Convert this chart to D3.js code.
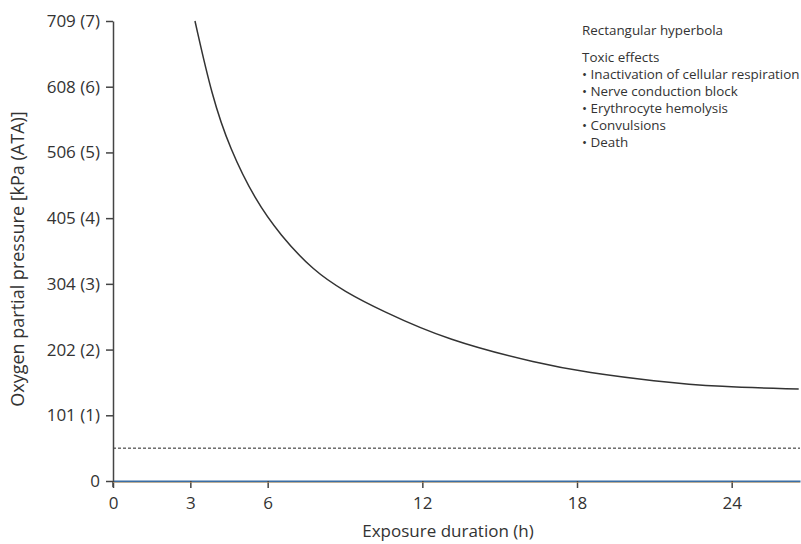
<!DOCTYPE html>
<html><head><meta charset="utf-8">
<script src="https://cdn.jsdelivr.net/npm/d3@7"></script>
<style>body{margin:0;background:#fff}svg{display:block}text{font-family:"Open Sans",sans-serif;fill:#333}</style>
</head><body>
<svg id="c" width="801" height="544"></svg>
<script>
const hours = [3.18, 3.84, 4.54, 5.51, 6.49, 7.77, 9.0, 10.37, 12.97, 16.58, 18.41, 20.97, 23.57, 26.6];
const ata   = [7.0, 5.85, 5.05, 4.28, 3.74, 3.20, 2.88, 2.60, 2.14, 1.78, 1.65, 1.52, 1.43, 1.40];
const thresholdATA = 0.5;
const yTickValues = [0, 1, 2, 3, 4, 5, 6, 7];
const yTickLabels = ["0", "101 (1)", "202 (2)", "304 (3)", "405 (4)", "506 (5)", "608 (6)", "709 (7)"];
const xTickValues = [0, 3, 6, 12, 18, 24];
const legendTitle = "Rectangular hyperbola";
const legendHeader = "Toxic effects";
const legendItems = ["Inactivation of cellular respiration", "Nerve conduction block", "Erythrocyte hemolysis", "Convulsions", "Death"];

const svg = d3.select("#c");
const x = d3.scaleLinear().domain([0, 26.65]).range([113, 800]);
const y = d3.scaleLinear().domain([0, 7]).range([481, 21]);

// dashed threshold
svg.append("line").attr("x1", x(0)).attr("x2", 800).attr("y1", y(thresholdATA)).attr("y2", y(thresholdATA))
  .attr("stroke", "#222").attr("stroke-width", 1).attr("stroke-dasharray", "3,2");

// curve
const pts = hours.map((h, i) => [h, ata[i]]);
svg.append("path").datum(pts)
  .attr("d", d3.line().x(d => x(d[0])).y(d => y(d[1])).curve(d3.curveBasis))
  .attr("fill", "none").attr("stroke", "#333").attr("stroke-width", 1.5);

// y axis
const ya = svg.append("g").attr("transform", `translate(${x(0)},0)`)
  .call(d3.axisLeft(y).tickValues(yTickValues).tickFormat((d, i) => yTickLabels[i]).tickSize(7).tickSizeOuter(0).tickPadding(6));
ya.select(".domain").attr("stroke", "#444").attr("stroke-width", 1.5);
ya.selectAll(".tick line").attr("stroke", "#444").attr("stroke-width", 1.5);
ya.selectAll("text").style("font-size", "17px").attr("fill", "#333");
svg.append("line").attr("x1", x(0)).attr("x2", x(0)).attr("y1", y(0)).attr("y2", y(0) + 6)
  .attr("stroke", "#444").attr("stroke-width", 1.5);

// x axis
const xa = svg.append("g").attr("transform", `translate(0,${y(0)})`)
  .call(d3.axisBottom(x).tickValues(xTickValues).tickSize(7).tickSizeOuter(0).tickPadding(9));
xa.select(".domain").attr("stroke", "#3a6ea5").attr("stroke-width", 2);
xa.selectAll(".tick line").attr("stroke", "#444").attr("stroke-width", 1.5);
xa.selectAll("text").style("font-size", "17px").attr("fill", "#333");
svg.append("line").attr("x1", x(0)).attr("x2", 800).attr("y1", y(0) + 1.5).attr("y2", y(0) + 1.5)
  .attr("stroke", "#d8a86a").attr("stroke-width", 0.8).attr("opacity", 0.7);

// axis titles
svg.append("text").attr("x", 448).attr("y", 537).attr("text-anchor", "middle")
  .style("font-size", "17px").text("Exposure duration (h)");
svg.append("text").attr("transform", "translate(24,259) rotate(-90)").attr("text-anchor", "middle")
  .style("font-size", "18px").text("Oxygen partial pressure [kPa (ATA)]");

// legend
const lg = svg.append("g").style("font-size", "13.4px");
lg.append("text").attr("x", 582).attr("y", 35).text(legendTitle);
lg.append("text").attr("x", 582).attr("y", 62).text(legendHeader);
legendItems.forEach((t, i) => {
  lg.append("text").attr("x", 582).attr("y", 79 + i * 17).text("\u2022 " + t);
});
</script>
</body></html>
